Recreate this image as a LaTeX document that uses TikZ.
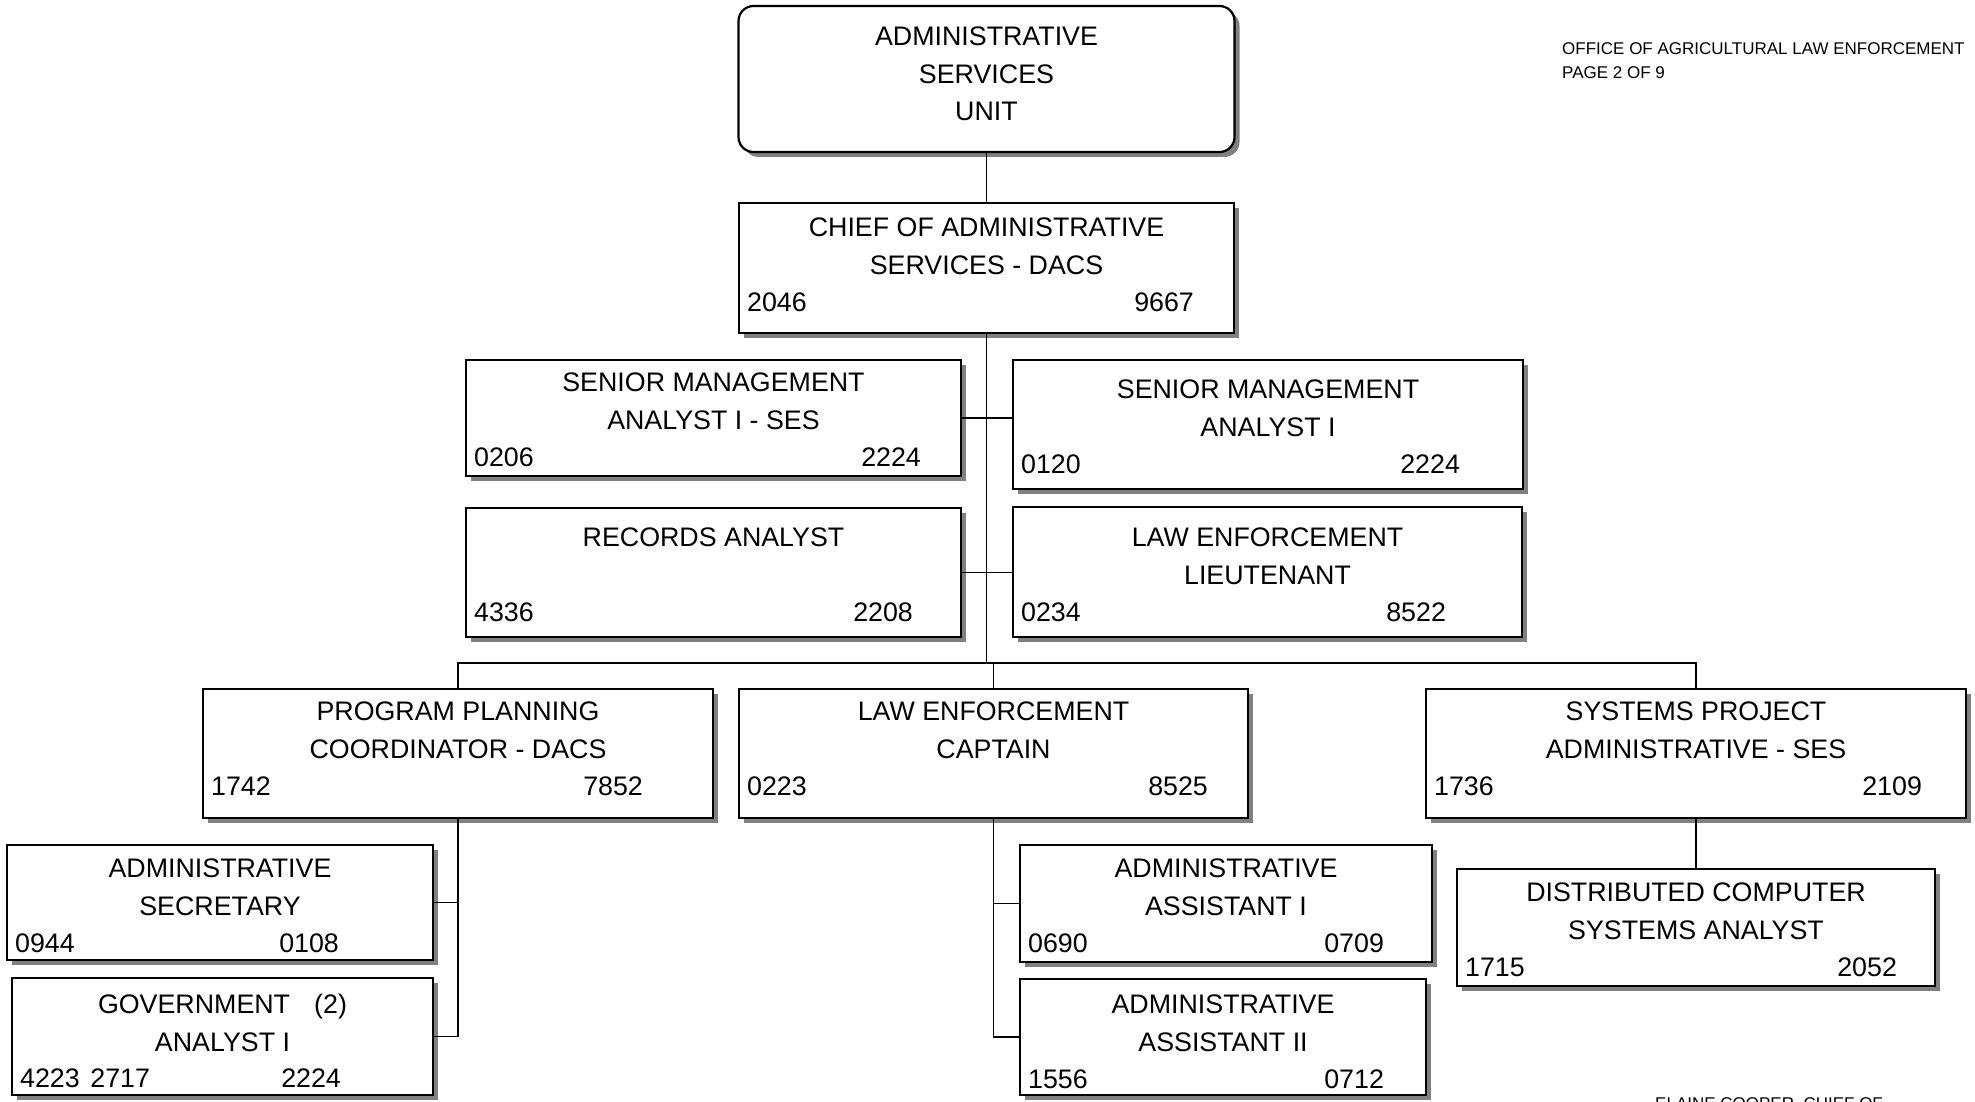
\documentclass[tikz,border=0pt]{standalone}
\usepackage{fontspec}
\setmainfont{Liberation Sans}
\usetikzlibrary{shadows}

\begin{document}
\begin{tikzpicture}[x=1pt,y=-1pt,
    post/.style={draw, line width=2.2pt, fill=white, inner sep=0pt,
      drop shadow={shadow xshift=5pt, shadow yshift=-5pt, fill=black!50, opacity=1}},
    posttext/.style={font=\fontsize{26.8}{37.5}\selectfont, align=center, anchor=north, inner sep=0pt},
    postno/.style={font=\fontsize{26.8}{37.5}\selectfont, inner sep=0pt},
    note/.style={font=\fontsize{17}{24}\selectfont, align=left, inner sep=0pt},
    link/.style={line width=1.8pt}]
		\path[use as bounding box, clip] (0,0) rectangle (1975,1102);% page frame

		% unit at the top
		\node[post, rounded corners=15pt, minimum width=496pt, minimum height=146pt] (unit) at (986.5,79) {};
		\node[posttext] at ([yshift=-22pt]unit.north) {ADMINISTRATIVE\\SERVICES\\UNIT};

		% name/x/y/width/height/title drop/title/left no./right no./right inset
		\foreach \nm/\cx/\cy/\bw/\bh/\dy/\txt/\lno/\rno/\ri in {
		  chief/986.5/268/495/130/16/{CHIEF OF ADMINISTRATIVE\\SERVICES - DACS}/2046/9667/41,
		  smases/713.5/418/495/116/14/{SENIOR MANAGEMENT\\ANALYST I - SES}/0206/2224/41,
		  smai/1268/424.5/510/129/21/{SENIOR MANAGEMENT\\ANALYST I}/0120/2224/64,
		  records/713.5/572.5/495/129/21/{RECORDS ANALYST}/4336/2208/49,
		  lieut/1267.5/572/509/130/22/{LAW ENFORCEMENT\\LIEUTENANT}/0234/8522/77,
		  ppc/458/753.5/510/129/14/{PROGRAM PLANNING\\COORDINATOR - DACS}/1742/7852/71,
		  captain/993.5/753.5/509/129/14/{LAW ENFORCEMENT\\CAPTAIN}/0223/8525/41,
		  spa/1696/753.5/540/129/14/{SYSTEMS PROJECT\\ADMINISTRATIVE - SES}/1736/2109/45,
		  adminsec/220/902.5/426/115/15/{ADMINISTRATIVE\\SECRETARY}/0944/0108/95,
		  gov/222.5/1036.5/421/117/17/{GOVERNMENT\hspace{0.9em}(2)\\ANALYST I}/{4223\hspace{0.4em}2717}/2224/93,
		  aa1/1226/903.5/412/117/15/{ADMINISTRATIVE\\ASSISTANT I}/0690/0709/49,
		  aa2/1223/1037/406/116/17/{ADMINISTRATIVE\\ASSISTANT II}/1556/0712/43,
		  dcsa/1696/927.5/478/117/15/{DISTRIBUTED COMPUTER\\SYSTEMS ANALYST}/1715/2052/39}{%
		  \node[post, minimum width=\bw pt, minimum height=\bh pt] (\nm) at (\cx,\cy) {};
		  \node[posttext] at ([yshift=-\dy pt]\nm.north) {\txt};
		  \node[postno, anchor=base west] at ([xshift=9pt, yshift={-(\dy+94)*1pt}]\nm.north west) {\lno};
		  \node[postno, anchor=base east] at ([xshift=-\ri pt, yshift={-(\dy+94)*1pt}]\nm.north east) {\rno};
		}

		% reporting lines
		\coordinate (bus) at (0,663);
		\draw[link] (unit) -- (chief);
		\draw[link] (chief.south) -- (chief.south |- bus);
		\draw[link] (ppc.north) -- (ppc.north |- bus) -| (spa.north);
		\draw[link] (captain.north) -- (captain.north |- bus);
		\draw[link] (smases.east) -- (smases.east -| smai.west);
		\draw[link] (records.east) -- (records.east -| lieut.west);
		\draw[link] (ppc.south) |- (gov.east);
		\draw[link] (adminsec.east) -- (adminsec.east -| ppc.south);
		\draw[link] (captain.south) |- (aa2.west);
		\draw[link] (aa1.west) -- (aa1.west -| captain.south);
		\draw[link] (spa) -- (dcsa);

		% page notes
		\node[note, anchor=north west] (office) at (1562,42) {OFFICE OF AGRICULTURAL LAW ENFORCEMENT\\PAGE 2 OF 9};
		\node[note, anchor=base west] (signed) at (1655,1109) {ELAINE COOPER, CHIEF OF};
\end{tikzpicture}
\end{document}
